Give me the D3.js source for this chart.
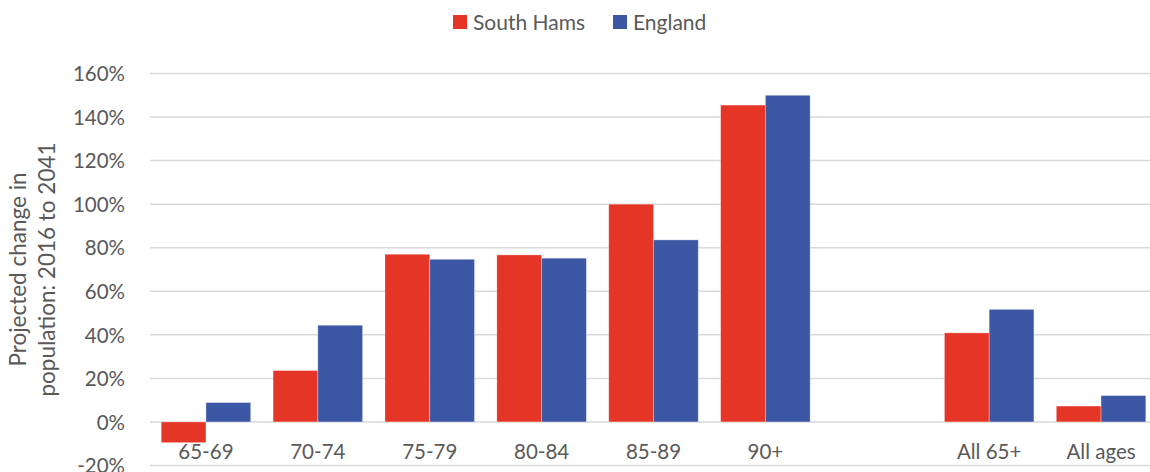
<!DOCTYPE html>
<meta charset="utf-8">
<style>
  body { margin: 0; background: #fff; }
  text { font-family: Lato, "Open Sans", sans-serif; fill: #595959; }
</style>
<script src="https://d3js.org/d3.v7.min.js"></script>
<div id="chart"></div>
<script>

// data
var categories = ["65-69", "70-74", "75-79", "80-84", "85-89", "90+", "", "All 65+", "All ages"];
var southHams = [-9.5, 23.6, 77.0, 76.7, 100.0, 145.5, null, 40.9, 7.3];
var england   = [8.9, 44.4, 74.7, 75.2, 83.6, 150.0, null, 51.7, 12.1];
var seriesNames = ["South Hams", "England"];
var seriesColors = ["#e43526", "#3c57a3"];
var yTicks = [-20, 0, 20, 40, 60, 80, 100, 120, 140, 160];

var W = 1150, H = 472;
var margin = {top: 73.5, right: -7, bottom: 6.5, left: 150};

var svg = d3.select("#chart").append("svg")
  .attr("width", W)
  .attr("height", H);

var x = d3.scaleBand()
  .domain(d3.range(categories.length))
  .range([margin.left, W - margin.right])
  .paddingInner(0.2)
  .paddingOuter(0.1);

var xs = d3.scaleBand()
  .domain([0, 1])
  .range([0, x.bandwidth()]);

var y = d3.scaleLinear()
  .domain([-20, 160])
  .range([H - margin.bottom, margin.top]);

// gridlines
svg.append("g")
  .selectAll("line")
  .data(yTicks)
  .join("line")
    .attr("x1", margin.left)
    .attr("x2", W)
    .attr("y1", function(d) { return y(d); })
    .attr("y2", function(d) { return y(d); })
    .style("stroke", "#d9d9d9")
    .style("stroke-width", 1.5);

// y axis labels
var yAxis = svg.append("g")
  .attr("transform", "translate(" + (margin.left - 22) + ",0)")
  .call(d3.axisLeft(y).tickValues(yTicks).tickSize(0).tickFormat(function(d) { return d + "%"; }));
yAxis.select(".domain").remove();
yAxis.selectAll("text")
  .style("font-size", "20.5px")
  .style("font-family", "Lato, 'Open Sans', sans-serif")
  .style("fill", "#595959")
  .attr("dy", "0.35em");

// bars
var rows = [southHams, england];
rows.forEach(function(vals, s) {
  svg.append("g")
    .selectAll("rect")
    .data(vals.map(function(v, i) { return {i: i, v: v}; }).filter(function(d) { return d.v !== null; }))
    .join("rect")
      .attr("x", function(d) { return x(d.i) + xs(s); })
      .attr("width", xs.bandwidth())
      .attr("y", function(d) { return y(Math.max(0, d.v)); })
      .attr("height", function(d) { return Math.abs(y(d.v) - y(0)); })
      .style("fill", seriesColors[s])
      .style("stroke", "#ffffff")
      .style("stroke-opacity", 0.4)
      .style("stroke-width", 0.8);
});

// category labels
svg.append("g")
  .selectAll("text")
  .data(categories)
  .join("text")
    .attr("x", function(d, i) { return x(i) + x.bandwidth() / 2; })
    .attr("y", y(0) + 37)
    .attr("text-anchor", "middle")
    .style("font-size", "20.5px")
    .text(function(d) { return d; });

// y axis title
var yTitle = svg.append("text")
  .attr("transform", "translate(33," + ((y(-20) + y(160)) / 2) + ") rotate(-90)")
  .attr("text-anchor", "middle")
  .style("font-size", "22.5px");
yTitle.append("tspan").attr("x", 0).attr("dy", "-0.3em").text("Projected change in");
yTitle.append("tspan").attr("x", 0).attr("dy", "1.3em").text("population: 2016 to 2041");

// legend
var legendX = [453, 613];
var legend = svg.append("g");
seriesNames.forEach(function(name, s) {
  legend.append("rect")
    .attr("x", legendX[s])
    .attr("y", 15)
    .attr("width", 14)
    .attr("height", 14)
    .style("fill", seriesColors[s]);
  legend.append("text")
    .attr("x", legendX[s] + 20)
    .attr("y", 29.5)
    .style("font-size", "21px")
    .text(name);
});

</script>
